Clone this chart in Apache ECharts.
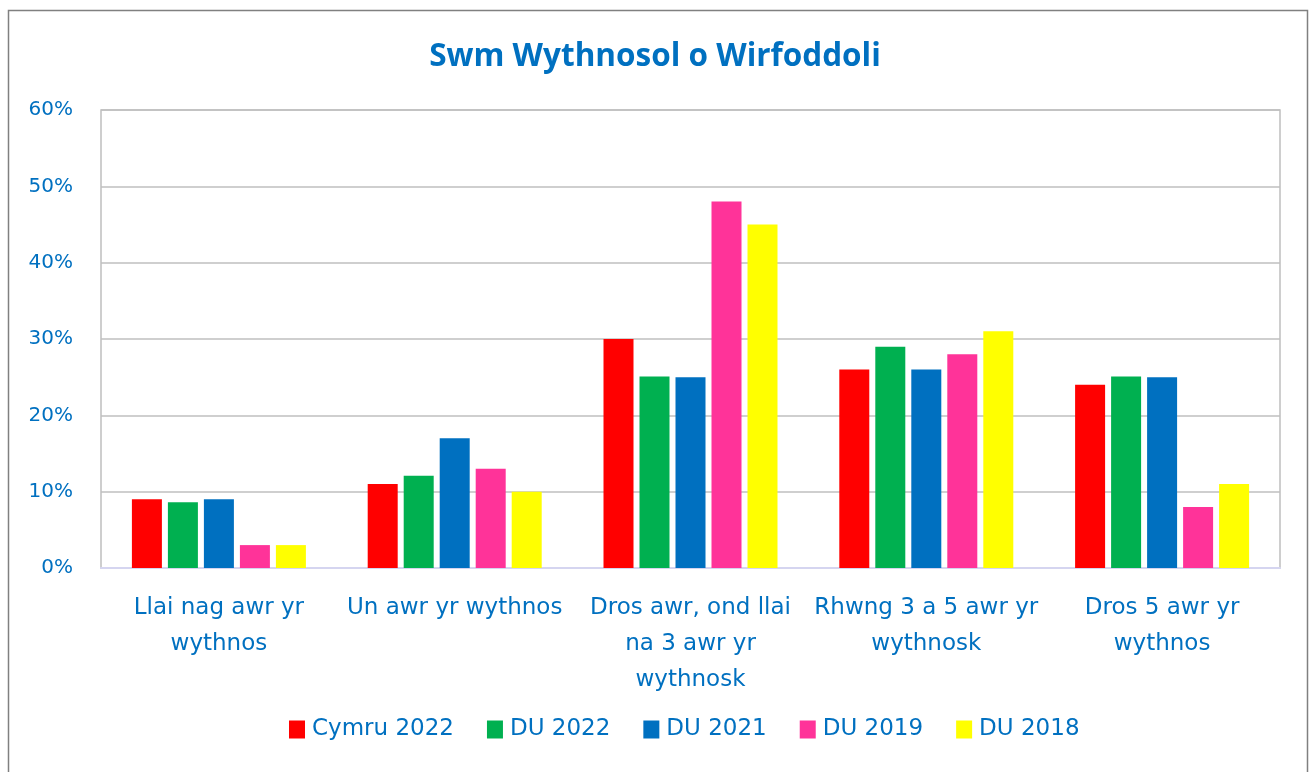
<!DOCTYPE html>
<html>
<head>
<meta charset="utf-8">
<script src="https://cdn.jsdelivr.net/npm/echarts@6/dist/echarts.min.js"></script>
<style>html,body{margin:0;padding:0;background:#fff}#c{width:1310px;height:772px}</style>
</head>
<body>
<div id="c"></div>
<script>
const categories = ["Llai nag awr yr\nwythnos", "Un awr yr wythnos", "Dros awr, ond llai\nna 3 awr yr\nwythnosk", "Rhwng 3 a 5 awr yr\nwythnosk", "Dros 5 awr yr\nwythnos"];
const seriesNames = ["Cymru 2022", "DU 2022", "DU 2021", "DU 2019", "DU 2018"];
const cymru2022 = [9, 11, 30, 26, 24];
const du2022 = [8.6, 12.1, 25.1, 29, 25.1];
const du2021 = [9, 17, 25, 26, 25];
const du2019 = [3, 13, 48, 28, 8];
const du2018 = [3, 10, 45, 31, 11];
const colors = ["#ff0000", "#00b050", "#0070c0", "#ff3399", "#ffff00"];
const yTicks = [0, 10, 20, 30, 40, 50, 60];

const font = "'DejaVu Sans', Inter, sans-serif";
const blue = "#0070c0";
const data = [cymru2022, du2022, du2021, du2019, du2018];

const chart = echarts.init(document.getElementById('c'), null, {renderer: 'canvas'});
chart.setOption({
  animation: false,
  title: {
    text: "Swm Wythnosol o Wirfoddoli",
    left: 'center', top: 36,
    textStyle: {color: blue, fontSize: 31.5, fontWeight: 'bold', fontFamily: "'Open Sans', sans-serif"}
  },
  graphic: [{
    type: 'rect', silent: true, z: -1,
    shape: {x: 8.5, y: 10.5, width: 1299, height: 800},
    style: {fill: 'none', stroke: '#808080', lineWidth: 1.5}
  }],
  legend: {
    bottom: 26, left: 284,
    itemWidth: 16, itemHeight: 18, itemGap: 33,
    icon: 'rect',
    textStyle: {color: blue, fontSize: 23, fontFamily: font, padding: [0, 0, 0, 2]},
    data: seriesNames
  },
  grid: {
    left: 101, right: 30, top: 110, bottom: 204,
    show: true, borderColor: '#bfbfbf', borderWidth: 1.5, containLabel: false
  },
  xAxis: {
    type: 'category', data: categories,
    axisLine: {lineStyle: {color: '#d5d5f0', width: 2}},
    axisTick: {show: false},
    axisLabel: {color: blue, fontSize: 23, fontFamily: font, lineHeight: 36, margin: 22, interval: 0}
  },
  yAxis: {
    type: 'value', min: yTicks[0], max: yTicks[yTicks.length - 1], interval: 10,
    axisLine: {show: false}, axisTick: {show: false},
    splitLine: {lineStyle: {color: '#bfbfbf', width: 1.5}},
    axisLabel: {color: blue, fontSize: 20, fontFamily: font, margin: 28, formatter: v => v + '%'}
  },
  series: seriesNames.map((n, i) => ({
    name: n, type: 'bar', data: data[i],
    barWidth: 30, barGap: '20%',
    itemStyle: {color: colors[i]}
  }))
});
</script>
</body>
</html>
